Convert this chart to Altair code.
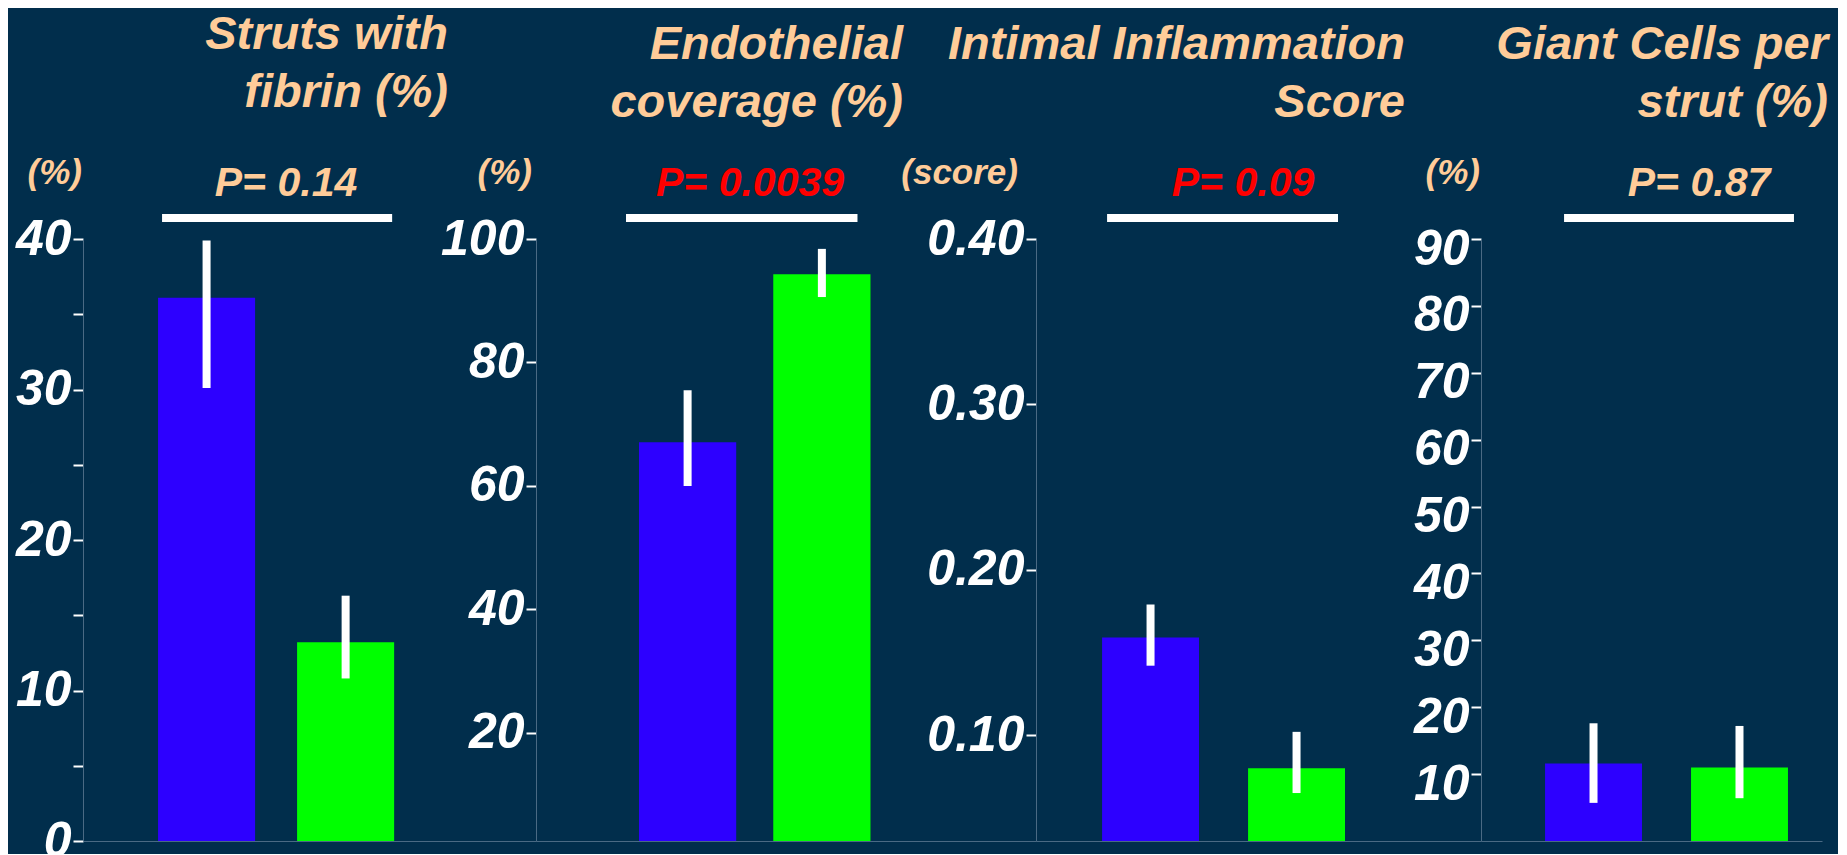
import altair as alt
import pandas as pd

# ---------------- data ----------------
groups = ["Stent A", "Stent B"]
bar_colors = ["#2D00FF", "#00FF00"]

titles = [
    ["Struts with", "fibrin (%)"],
    ["Endothelial", "coverage (%)"],
    ["Intimal Inflammation", "Score"],
    ["Giant Cells per", "strut (%)"],
]
units = ["(%)", "(%)", "(score)", "(%)"]
p_labels = ["P= 0.14", "P= 0.0039", "P= 0.09", "P= 0.87"]

fibrin_mean = [36.1, 13.2]
fibrin_lo = [30.1, 10.8]
fibrin_hi = [39.9, 16.3]

endo_mean = [67.1, 94.3]
endo_lo = [60.0, 90.6]
endo_hi = [75.5, 98.4]

inflam_mean = [0.159, 0.080]
inflam_lo = [0.142, 0.065]
inflam_hi = [0.179, 0.102]

giant_mean = [11.6, 11.0]
giant_lo = [5.7, 6.4]
giant_hi = [17.6, 17.2]

fibrin_ticks = [0, 5, 10, 15, 20, 25, 30, 35, 40]
endo_ticks = [20, 40, 60, 80, 100]
inflam_ticks = [0.10, 0.20, 0.30, 0.40]
giant_ticks = [10, 20, 30, 40, 50, 60, 70, 80, 90]

# ---------------- style ----------------
BG = "#012E4C"
PEACH = "#FFCC99"
RED = "#FF0000"
WHITE = "#FFFFFF"
AXIS_LINE = "#4A6A84"
FONT = "Liberation Sans"
H = 602


def panel(mean, lo, hi, domain, ticks, width, band, title, unit, ptext, pcolor,
          label_expr=None, fmt=None, label_offset=0, title_y=-180,
          title_x=0, unit_x=0, p_x=0, line_off=(0, 0)):
    df = pd.DataFrame({"group": groups, "mean": mean, "lo": lo, "hi": hi})
    pi, po, al = band
    xscale = alt.Scale(domain=groups, paddingInner=pi, paddingOuter=po, align=al)
    yscale = alt.Scale(domain=domain, zero=False, nice=False)

    axis_kw = dict(
        values=ticks, title=None, grid=False,
        domainColor=AXIS_LINE, domainWidth=1,
        tickColor=WHITE, tickWidth=2, tickSize=10,
        labelColor=WHITE, labelFont=FONT, labelFontSize=50,
        labelFontStyle="italic", labelFontWeight="bold",
        labelPadding=2, labelOffset=label_offset,
    )
    if label_expr:
        axis_kw["labelExpr"] = label_expr
    if fmt:
        axis_kw["format"] = fmt

    bars = alt.Chart(df).mark_bar().encode(
        x=alt.X("group:N", scale=xscale,
                axis=alt.Axis(labels=False, ticks=False, title=None, grid=False,
                              domainColor=AXIS_LINE, domainWidth=1)),
        y=alt.Y("mean:Q", scale=yscale, axis=alt.Axis(**axis_kw)),
        y2=alt.datum(domain[0]),
        color=alt.Color("group:N", scale=alt.Scale(domain=groups, range=bar_colors),
                        legend=None),
    )
    err = alt.Chart(df).mark_rule(color=WHITE, strokeWidth=8).encode(
        x="group:N", y="lo:Q", y2="hi:Q"
    )
    pl_df = pd.DataFrame({"a": [groups[0]], "b": [groups[1]]})
    pline = alt.Chart(pl_df).mark_rule(
        color=WHITE, strokeWidth=8, xOffset=line_off[0], x2Offset=line_off[1]
    ).encode(
        x=alt.X("a:N", bandPosition=0),
        x2=alt.X2("b", bandPosition=1),
        y=alt.value(-21),
    )
    ptxt = alt.Chart(pd.DataFrame({"t": [ptext]})).mark_text(
        font=FONT, fontSize=41, fontStyle="italic", fontWeight="bold",
        color=pcolor, align="center", baseline="alphabetic",
    ).encode(x=alt.value(p_x), y=alt.value(-43), text="t:N")
    utxt = alt.Chart(pd.DataFrame({"t": [unit]})).mark_text(
        font=FONT, fontSize=35, fontStyle="italic", fontWeight="bold",
        color=PEACH, align="right", baseline="alphabetic",
    ).encode(x=alt.value(unit_x), y=alt.value(-55), text="t:N")
    ttxt = alt.Chart(pd.DataFrame({"t": ["\n".join(title)]})).mark_text(
        font=FONT, fontSize=47, fontStyle="italic", fontWeight="bold",
        color=PEACH, align="right", baseline="alphabetic",
        lineBreak="\n", lineHeight=58,
    ).encode(x=alt.value(title_x), y=alt.value(title_y), text="t:N")

    return alt.layer(bars, err, pline, ptxt, utxt, ttxt).properties(width=width, height=H)


p1 = panel(fibrin_mean, fibrin_lo, fibrin_hi, [0, 40], fibrin_ticks, 453,
           (0.302, 0.78, 0.346), titles[0], units[0], p_labels[0], PEACH,
           label_expr="datum.value % 10 === 0 ? datum.label : ''",
           title_y=-190, title_x=365, unit_x=-1, p_x=203, line_off=(4, -2))
p2 = panel(endo_mean, endo_lo, endo_hi, [2.5, 100], endo_ticks, 500,
           (0.276, 1.0, 0.3836), titles[1], units[1], p_labels[1], RED,
           title_x=367, unit_x=-4, p_x=214, line_off=(-13, -13))
p3 = panel(inflam_mean, inflam_lo, inflam_hi, [0.036, 0.40], inflam_ticks, 445,
           (0.336, 0.692, 0.327), titles[2], units[2], p_labels[2], RED,
           fmt=".2f", title_x=369, unit_x=-18, p_x=207, line_off=(5, -7))
p4 = panel(giant_mean, giant_lo, giant_hi, [0, 90], giant_ticks, 341,
           (0.336, 0.336, 0.653), titles[3], units[3], p_labels[3], PEACH,
           label_offset=10, title_x=347, unit_x=-1, p_x=218, line_off=(19, 6))

chart = alt.hconcat(p1, p2, p3, p4, spacing=0, bounds="flush").properties(
    background=BG,
    padding={"left": 7, "top": 3, "right": 10, "bottom": -12},
).configure_view(strokeWidth=0)

chart.save("out.html", embed_options={"renderer": "svg", "actions": False})
